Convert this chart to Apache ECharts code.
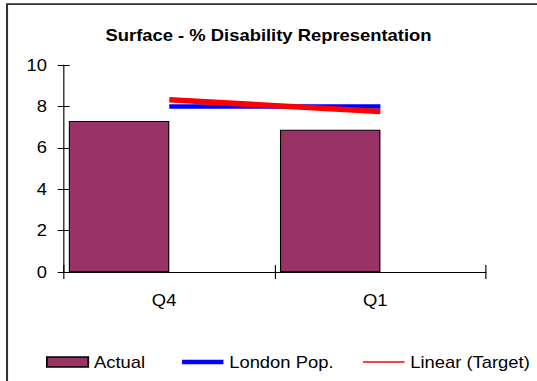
<!DOCTYPE html>
<html>
<head>
<meta charset="utf-8">
<script src="https://cdn.jsdelivr.net/npm/echarts@6/dist/echarts.min.js"></script>
<style>
  html, body { margin: 0; padding: 0; background: #ffffff; overflow: hidden; }
  /* The chart is laid out in a narrower box and widened horizontally,
     giving the wide, stretched lettering of the original sheet. */
  #chart {
    width: 467px; height: 381px;
    transform: scaleX(1.15); transform-origin: 0 0;
  }
</style>
</head>
<body>
<div id="chart"></div>
<script>
// Data
var categories = ['Q4', 'Q1'];
var actualValues = [7.3, 6.87];
var londonPopValues = [8, 8];
var targetValues = [8.32, 7.75];
var yTicks = [0, 2, 4, 6, 8, 10];

var FONT = 'Liberation Sans, Arial, sans-serif';
var PLUM = '#993366';

var chart = echarts.init(document.getElementById('chart'), null, { renderer: 'svg' });

var gridBox = { left: 55.4, right: 44.4, top: 65, bottom: 109 };

function legendAt(left, top, name, icon, itemHeight, itemStyle) {
  return {
    left: left, top: top, padding: 0,
    itemWidth: 36, itemHeight: itemHeight, itemGap: 0,
    selectedMode: false,
    textStyle: { fontFamily: FONT, fontSize: 16, color: '#000', padding: [0, 0, 0, 0] },
    data: [{ name: name, icon: icon, itemStyle: itemStyle }]
  };
}

chart.setOption({
  backgroundColor: '#ffffff',
  animation: false,
  title: {
    text: 'Surface - % Disability Representation',
    left: 'center', top: 27, padding: 0,
    textStyle: { fontFamily: FONT, fontSize: 16, fontWeight: 'bold', color: '#000' }
  },
  graphic: [{
    type: 'rect', silent: true, z: -1,
    shape: { x: 6.1, y: 4.2, width: 600, height: 500 },
    style: { fill: 'none', stroke: '#333333', lineWidth: 1.8 }
  }],
  legend: [
    legendAt(40, 354, 'Actual', 'rect', 10,
      { color: PLUM, borderColor: '#000', borderWidth: 1.5 }),
    legendAt(158.3, 354, 'London Pop.', 'rect', 4.5,
      { color: '#0000ff', borderWidth: 0 }),
    legendAt(315.7, 354, 'Linear (Target)', 'rect', 1.4,
      { color: '#ff0000', borderWidth: 0 })
  ],
  grid: gridBox,
  xAxis: [{
    type: 'category',
    data: categories,
    boundaryGap: true,
    axisLine: { lineStyle: { color: '#000', width: 1 } },
    axisTick: { show: true, length: 7, lineStyle: { color: '#000' } },
    axisLabel: {
      fontFamily: FONT, fontSize: 16, color: '#000', margin: 20,
      padding: [0, 9, 0, 0]
    },
    splitLine: { show: false }
  }, {
    // inward half of the crossing tick marks
    type: 'category',
    data: categories,
    position: 'bottom',
    boundaryGap: true,
    axisLine: { show: false },
    axisTick: { show: true, inside: true, length: 7, lineStyle: { color: '#000' } },
    axisLabel: { show: false },
    splitLine: { show: false }
  }],
  yAxis: [{
    type: 'value',
    min: yTicks[0], max: yTicks[yTicks.length - 1], interval: 2,
    axisLine: { show: true, lineStyle: { color: '#000', width: 1 } },
    axisTick: { show: true, length: 5.2, lineStyle: { color: '#000' } },
    axisLabel: { fontFamily: FONT, fontSize: 16, color: '#000', margin: 14.6 },
    splitLine: { show: false }
  }, {
    type: 'value',
    position: 'left',
    min: yTicks[0], max: yTicks[yTicks.length - 1], interval: 2,
    axisLine: { show: false },
    axisTick: { show: true, inside: true, length: 5.2, lineStyle: { color: '#000' } },
    axisLabel: { show: false },
    splitLine: { show: false }
  }],
  series: [{
    name: 'Actual',
    type: 'bar',
    data: actualValues,
    barGap: '0%',
    barCategoryGap: '4.85%',
    itemStyle: { color: PLUM, borderColor: '#000', borderWidth: 1 },
    z: 2
  }, {
    // Target bars carry no fill; only their trend line is shown
    name: 'Target',
    type: 'bar',
    data: targetValues,
    barGap: '0%',
    barCategoryGap: '4.85%',
    itemStyle: { color: 'rgba(0,0,0,0)', borderWidth: 0 },
    silent: true,
    z: 1
  }, {
    name: 'London Pop.',
    type: 'line',
    data: londonPopValues,
    symbol: 'none',
    lineStyle: { color: '#0000ff', width: 4.5, cap: 'butt' },
    itemStyle: { color: '#0000ff' },
    z: 3
  }, {
    name: 'Linear (Target)',
    type: 'line',
    data: targetValues,
    symbol: 'none',
    lineStyle: { color: '#ff0000', width: 5.5, cap: 'butt' },
    itemStyle: { color: '#ff0000' },
    z: 4
  }]
});
</script>
</body>
</html>
